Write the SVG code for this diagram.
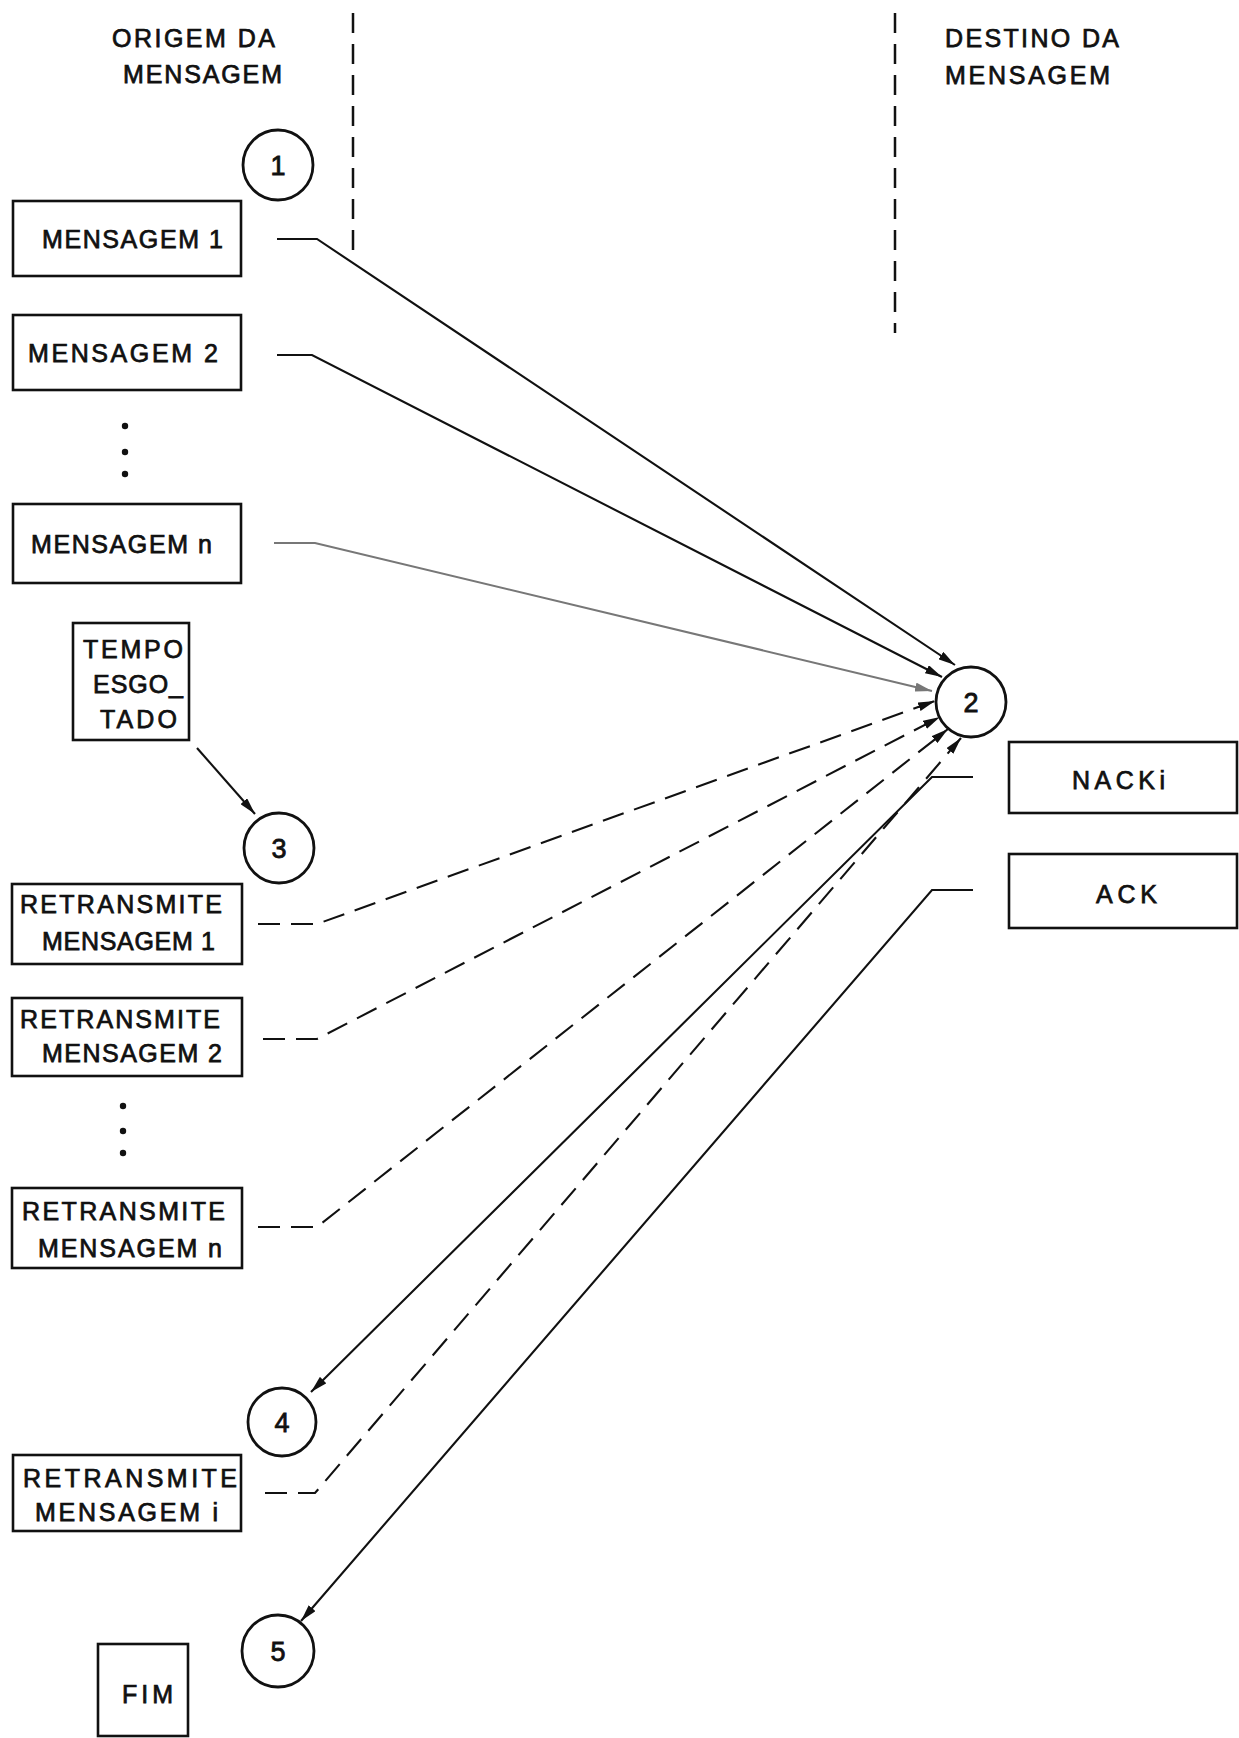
<svg xmlns="http://www.w3.org/2000/svg" width="1239" height="1738" viewBox="0 0 1239 1738">
<defs>
<style>
.bg{fill:#ffffff}
.box{fill:#ffffff;stroke:#111;stroke-width:2.6}
.circ{fill:#ffffff;stroke:#111;stroke-width:2.8}
.t{font-family:"Liberation Sans",Arial,sans-serif;font-size:25px;fill:#111;stroke:#111;stroke-width:0.75}
.num{font-family:"Liberation Sans",Arial,sans-serif;font-size:27px;fill:#111;text-anchor:middle;stroke:#111;stroke-width:0.8}
.sep{fill:none;stroke:#111;stroke-width:2.5;stroke-dasharray:20 11}
.solid{fill:none;stroke:#111;stroke-width:2.1;marker-end:url(#ah)}
.grey{fill:none;stroke:#777;stroke-width:2.1;marker-end:url(#ahg)}
.dash{fill:none;stroke:#111;stroke-width:2.1;stroke-dasharray:22 11;marker-end:url(#ah)}
.dot{fill:#111}
</style>
<marker id="ah" viewBox="0 0 17 9" refX="17" refY="4.5" markerWidth="17" markerHeight="9" markerUnits="userSpaceOnUse" orient="auto">
<path d="M0,0 L17,4.5 L0,9 Z" fill="#111"/>
</marker>
<marker id="ahg" viewBox="0 0 17 9" refX="17" refY="4.5" markerWidth="17" markerHeight="9" markerUnits="userSpaceOnUse" orient="auto">
<path d="M0,0 L17,4.5 L0,9 Z" fill="#777"/>
</marker>
</defs>
<rect class="bg" x="0" y="0" width="1239" height="1738"/>

<g id="headers">
<text class="t" x="112" y="47" textLength="163" lengthAdjust="spacing">ORIGEM DA</text>
<text class="t" x="123" y="83" textLength="159" lengthAdjust="spacing">MENSAGEM</text>
<text class="t" x="945" y="47" textLength="174" lengthAdjust="spacing">DESTINO DA</text>
<text class="t" x="945" y="84" textLength="165" lengthAdjust="spacing">MENSAGEM</text>
<line class="sep" x1="353" y1="13" x2="353" y2="252"/>
<line class="sep" x1="895" y1="13" x2="895" y2="333"/>
</g>

<g id="connectors">
<path class="solid" d="M277,239 L317,239 L955,665"/>
<path class="solid" d="M277,355 L312,355 L942,677"/>
<path class="grey" d="M274,543 L315,543 L932,691"/>
<path class="dash" d="M258,924 L317,924 L935,701"/>
<path class="dash" d="M263,1039 L317,1039 L940,717"/>
<path class="dash" d="M258,1227 L317,1227 L948,729"/>
<path class="dash" d="M265,1493 L315,1493 L961,738"/>
<path class="solid" d="M973,777 L932,777 L311,1392"/>
<path class="solid" d="M973,890 L932,890 L301,1621"/>
<path class="solid" d="M197,748 L255,814"/>
</g>

<g id="dots-top">
<circle class="dot" cx="125" cy="426" r="3.2"/>
<circle class="dot" cx="125" cy="452" r="3.2"/>
<circle class="dot" cx="125" cy="474" r="3.2"/>
</g>
<g id="dots-bottom">
<circle class="dot" cx="123" cy="1106" r="3.2"/>
<circle class="dot" cx="123" cy="1131" r="3.2"/>
<circle class="dot" cx="123" cy="1153" r="3.2"/>
</g>

<g id="c1">
<circle class="circ" cx="278" cy="165" r="35"/>
<text class="num" x="278" y="175">1</text>
</g>
<g id="m1">
<rect class="box" x="13" y="201" width="228" height="75"/>
<text class="t" x="42" y="248" textLength="181" lengthAdjust="spacing">MENSAGEM 1</text>
</g>
<g id="m2">
<rect class="box" x="13" y="315" width="228" height="75"/>
<text class="t" x="28" y="362" textLength="190" lengthAdjust="spacing">MENSAGEM 2</text>
</g>
<g id="mn">
<rect class="box" x="13" y="504" width="228" height="79"/>
<text class="t" x="31" y="553" textLength="181" lengthAdjust="spacing">MENSAGEM n</text>
</g>
<g id="tempo">
<rect class="box" x="73" y="623" width="116" height="117"/>
<text class="t" x="83" y="658" textLength="100" lengthAdjust="spacing">TEMPO</text>
<text class="t" x="93" y="693" textLength="90" lengthAdjust="spacing">ESGO_</text>
<text class="t" x="100" y="728" textLength="77" lengthAdjust="spacing">TADO</text>
</g>
<g id="c2">
<circle class="circ" cx="971" cy="702" r="35"/>
<text class="num" x="971" y="712">2</text>
</g>
<g id="nacki">
<rect class="box" x="1009" y="742" width="228" height="71"/>
<text class="t" x="1072" y="789" textLength="93" lengthAdjust="spacing">NACKi</text>
</g>
<g id="ack">
<rect class="box" x="1009" y="854" width="228" height="74"/>
<text class="t" x="1096" y="903" textLength="61" lengthAdjust="spacing">ACK</text>
</g>
<g id="c3">
<circle class="circ" cx="279" cy="848" r="35"/>
<text class="num" x="279" y="858">3</text>
</g>
<g id="r1">
<rect class="box" x="12" y="884" width="230" height="80"/>
<text class="t" x="20" y="913" textLength="202" lengthAdjust="spacing">RETRANSMITE</text>
<text class="t" x="42" y="950" textLength="173" lengthAdjust="spacing">MENSAGEM 1</text>
</g>
<g id="r2">
<rect class="box" x="12" y="998" width="230" height="78"/>
<text class="t" x="20" y="1028" textLength="200" lengthAdjust="spacing">RETRANSMITE</text>
<text class="t" x="42" y="1062" textLength="180" lengthAdjust="spacing">MENSAGEM 2</text>
</g>
<g id="rn">
<rect class="box" x="12" y="1188" width="230" height="80"/>
<text class="t" x="22" y="1220" textLength="203" lengthAdjust="spacing">RETRANSMITE</text>
<text class="t" x="38" y="1257" textLength="184" lengthAdjust="spacing">MENSAGEM n</text>
</g>
<g id="c4">
<circle class="circ" cx="282" cy="1422" r="34"/>
<text class="num" x="282" y="1432">4</text>
</g>
<g id="ri">
<rect class="box" x="13" y="1455" width="228" height="76"/>
<text class="t" x="23" y="1487" textLength="214" lengthAdjust="spacing">RETRANSMITE</text>
<text class="t" x="35" y="1521" textLength="183" lengthAdjust="spacing">MENSAGEM i</text>
</g>
<g id="c5">
<circle class="circ" cx="278" cy="1651" r="36"/>
<text class="num" x="278" y="1661">5</text>
</g>
<g id="fim">
<rect class="box" x="98" y="1644" width="90" height="92"/>
<text class="t" x="122" y="1703" textLength="51" lengthAdjust="spacing">FIM</text>
</g>
</svg>
